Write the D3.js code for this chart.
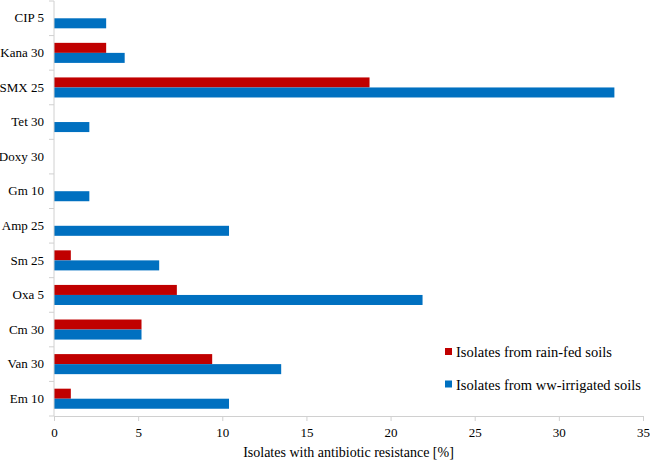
<!DOCTYPE html>
<html>
<head>
  <meta charset="utf-8">
  <title>Antibiotic resistance</title>
  <script src="https://d3js.org/d3.v7.min.js"></script>
  <style>
    body { margin: 0; background: #fff; }
    .axis path, .axis line { stroke: #d0d0d0; }
  </style>
</head>
<body>
  <svg id="chart"></svg>
  <script>
    // antibiotics, top to bottom
    var categories = ["CIP 5", "Kana 30", "SMX 25", "Tet 30", "Doxy 30", "Gm 10",
                      "Amp 25", "Sm 25", "Oxa 5", "Cm 30", "Van 30", "Em 10"];
    var seriesNames = ["Isolates from rain-fed soils", "Isolates from ww-irrigated soils"];
    var rainFed     = [0, 3.1, 18.75, 0, 0, 0, 0, 1.0, 7.3, 5.2, 9.4, 1.0];
    var wwIrrigated = [3.1, 4.2, 33.3, 2.1, 0, 2.1, 10.4, 6.25, 21.9, 5.2, 13.5, 10.4];
    var xTicks = [0, 5, 10, 15, 20, 25, 30, 35];
    var colors = ["#C00000", "#0070C0"];
    var serif = "Liberation Serif";

    var margin = {top: 1, right: 7, bottom: 49, left: 54};
    var width = 650 - margin.left - margin.right;
    var height = 465 - margin.top - margin.bottom;

    var svg = d3.select("#chart")
                .attr("width", 650)
                .attr("height", 465)
                .append("g")
                .attr("transform", "translate(" + margin.left + "," + margin.top + ")");

    var x = d3.scaleLinear().domain([0, 35]).range([0, width]);
    var y = d3.scaleBand().domain(categories).range([0, height]);
    var inset = y.bandwidth() * 0.21;
    var y1 = d3.scaleBand().domain([0, 1]).range([inset, y.bandwidth() - inset]);

    var rows = categories.map(function(c, i) {
      return {cat: c, values: [rainFed[i], wwIrrigated[i]]};
    });

    // bars
    var groups = svg.selectAll(".row")
                    .data(rows)
                    .enter()
                    .append("g")
                    .attr("class", "row")
                    .attr("transform", d => "translate(0," + y(d.cat) + ")");

    groups.selectAll("rect")
          .data(d => d.values.map((v, k) => ({k: k, v: v})))
          .enter()
          .filter(d => d.v > 0)
          .append("rect")
          .attr("x", 0)
          .attr("y", d => y1(d.k))
          .attr("width", d => x(d.v))
          .attr("height", y1.bandwidth())
          .style("fill", d => colors[d.k]);

    // x axis
    var xAxis = svg.append("g")
        .attr("class", "axis")
        .attr("transform", "translate(0," + height + ")")
        .call(d3.axisBottom(x).tickValues(xTicks).tickSize(5).tickSizeOuter(0).tickPadding(7));
    xAxis.selectAll("text")
         .style("font-family", serif)
         .style("font-size", "13px")
         .style("fill", "#000");

    // y axis: ticks between categories
    var yAxis = svg.append("g").attr("class", "axis");
    yAxis.append("line")
         .attr("x1", 0).attr("x2", 0)
         .attr("y1", 0).attr("y2", height);
    var bounds = categories.map(c => y(c)).concat([height]);
    yAxis.selectAll(".tk")
         .data(bounds)
         .enter()
         .append("line")
         .attr("x1", -5).attr("x2", 0)
         .attr("y1", d => d).attr("y2", d => d);
    yAxis.selectAll(".lbl")
         .data(categories)
         .enter()
         .append("text")
         .attr("x", -10)
         .attr("y", d => y(d) + y.bandwidth() / 2)
         .attr("dy", "0.32em")
         .attr("text-anchor", "end")
         .style("font-family", serif)
         .style("font-size", "13px")
         .text(d => d);

    // x axis title
    svg.append("text")
        .attr("x", width / 2)
        .attr("y", height + 41)
        .attr("text-anchor", "middle")
        .style("font-family", serif)
        .style("font-size", "14px")
        .text("Isolates with antibiotic resistance [%]");

    // legend
    var legend = svg.append("g")
                    .attr("transform", "translate(391,347)");
    var items = legend.selectAll("g")
                      .data(seriesNames)
                      .enter()
                      .append("g")
                      .attr("transform", (d, i) => "translate(0," + (i * 32.5) + ")");
    items.append("rect")
         .attr("width", 7)
         .attr("height", 7)
         .style("fill", (d, i) => colors[i]);
    items.append("text")
         .attr("x", 11)
         .attr("y", 9)
         .style("font-family", serif)
         .style("font-size", "14.5px")
         .text(d => d);
  </script>
</body>
</html>
